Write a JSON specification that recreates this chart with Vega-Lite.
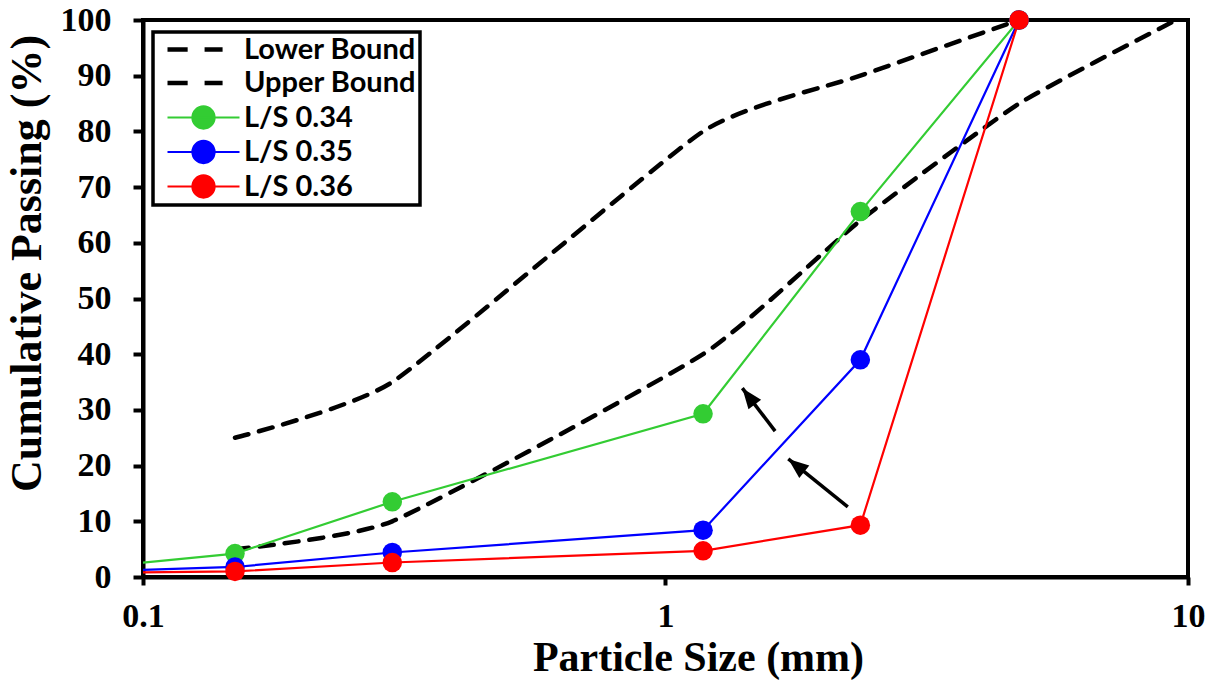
{
  "$schema": "https://vega.github.io/schema/vega-lite/v6.json",
  "width": 1045,
  "height": 557,
  "autosize": "none",
  "padding": {"left": 143, "top": 20, "right": 32, "bottom": 103},
  "background": "white",
  "datasets": {
    "gradation": [
      {"series": "Lower Bound", "size": 0.15, "passing": 5},
      {"series": "Lower Bound", "size": 0.3, "passing": 10},
      {"series": "Lower Bound", "size": 1.18, "passing": 40},
      {"series": "Lower Bound", "size": 2.36, "passing": 64},
      {"series": "Lower Bound", "size": 4.75, "passing": 85},
      {"series": "Lower Bound", "size": 9.5, "passing": 100},
      {"series": "Upper Bound", "size": 0.15, "passing": 25},
      {"series": "Upper Bound", "size": 0.3, "passing": 35},
      {"series": "Upper Bound", "size": 1.18, "passing": 80},
      {"series": "Upper Bound", "size": 2.36, "passing": 90},
      {"series": "Upper Bound", "size": 4.75, "passing": 100},
      {"series": "L/S 0.34", "size": 0.075, "passing": 1.4},
      {"series": "L/S 0.34", "size": 0.15, "passing": 4.2},
      {"series": "L/S 0.34", "size": 0.3, "passing": 13.5},
      {"series": "L/S 0.34", "size": 1.18, "passing": 29.3},
      {"series": "L/S 0.34", "size": 2.36, "passing": 65.6},
      {"series": "L/S 0.34", "size": 4.75, "passing": 100},
      {"series": "L/S 0.35", "size": 0.075, "passing": 0.9},
      {"series": "L/S 0.35", "size": 0.15, "passing": 1.8},
      {"series": "L/S 0.35", "size": 0.3, "passing": 4.4},
      {"series": "L/S 0.35", "size": 1.18, "passing": 8.4},
      {"series": "L/S 0.35", "size": 2.36, "passing": 39.0},
      {"series": "L/S 0.35", "size": 4.75, "passing": 100},
      {"series": "L/S 0.36", "size": 0.075, "passing": 0.7},
      {"series": "L/S 0.36", "size": 0.15, "passing": 1.0},
      {"series": "L/S 0.36", "size": 0.3, "passing": 2.6},
      {"series": "L/S 0.36", "size": 1.18, "passing": 4.7},
      {"series": "L/S 0.36", "size": 2.36, "passing": 9.3},
      {"series": "L/S 0.36", "size": 4.75, "passing": 100}
    ],
    "arrows": [
      {"arrow": "upper", "x_from": 1.621, "y_from": 26.2, "x_to": 1.403, "y_to": 33.9},
      {"arrow": "lower", "x_from": 2.233, "y_from": 12.6, "x_to": 1.718, "y_to": 21.2}
    ]
  },
  "config": {
    "view": {"stroke": "black", "strokeWidth": 4},
    "axis": {
      "grid": false,
      "domainColor": "black",
      "domainWidth": 4,
      "tickColor": "black",
      "tickWidth": 4,
      "labelFont": "Liberation Serif",
      "labelFontWeight": "bold",
      "labelFontSize": 34,
      "labelColor": "black",
      "titleFont": "Liberation Serif",
      "titleFontWeight": "bold",
      "titleColor": "black"
    }
  },
  "layer": [
    {
      "data": {"name": "gradation"},
      "transform": [{"filter": "indexof(datum.series, 'Bound') >= 0"}],
      "mark": {"type": "line", "clip": true, "strokeWidth": 4.5, "strokeDash": [14, 11], "strokeCap": "round", "interpolate": "cardinal", "tension": 0.5},
      "encoding": {
        "x": {
          "field": "size", "type": "quantitative",
          "scale": {"type": "log", "domain": [0.1, 10]},
          "axis": {
            "title": "Particle Size (mm)",
            "values": [0.1, 1, 10],
            "format": "~g",
            "labelFlush": false,
            "labelBaseline": "top",
            "labelPadding": 14,
            "tickSize": 8,
            "titleFontSize": 42,
            "titleX": 555,
            "titleY": 93,
            "titleAlign": "center",
            "titleBaseline": "alphabetic"
          }
        },
        "y": {
          "field": "passing", "type": "quantitative",
          "scale": {"domain": [0, 100], "nice": false},
          "axis": {
            "title": "Cumulative Passing (%)",
            "values": [0, 10, 20, 30, 40, 50, 60, 70, 80, 90, 100],
            "labelPadding": 22,
            "labelBaseline": "middle",
            "labelOverlap": false,
            "tickSize": 10,
            "titleFontSize": 44,
            "titleAngle": -90,
            "titleX": -103,
            "titleY": 243,
            "titleAlign": "center",
            "titleBaseline": "alphabetic"
          }
        },
        "color": {
          "field": "series", "type": "nominal",
          "scale": {
            "domain": ["Lower Bound", "Upper Bound", "L/S 0.34", "L/S 0.35", "L/S 0.36"],
            "range": ["black", "black", "#33cc33", "#0000ff", "#ff0000"]
          },
          "legend": {
            "title": null,
            "orient": "none",
            "legendX": 10,
            "legendY": 12,
            "padding": 3,
            "fillColor": "white",
            "strokeColor": "black",
            "symbolSize": 5184,
            "symbolOffset": 33,
            "labelOffset": 26,
            "rowPadding": 3.5,
            "labelFont": "Lato",
            "labelFontWeight": "bold",
            "labelFontSize": 29,
            "labelColor": "black",
            "labelLimit": 400,
            "encode": {
              "legend": {"update": {"strokeWidth": {"value": 3.5}}},
              "symbols": {
                "update": {
                  "shape": {"signal": "datum.value === 'Lower Bound' || datum.value === 'Upper Bound' ? 'M-1,0L-0.44,0M0.03,0L0.53,0' : 'M-1,0L1,0M0.31,0C0.31,0.1712 0.1712,0.31 0,0.31C-0.1712,0.31 -0.31,0.1712 -0.31,0C-0.31,-0.1712 -0.1712,-0.31 0,-0.31C0.1712,-0.31 0.31,-0.1712 0.31,0Z'"},
                  "strokeWidth": {"signal": "datum.value === 'Lower Bound' || datum.value === 'Upper Bound' ? 4.5 : 2"},
                  "fill": {"scale": "color", "field": "value"},
                  "stroke": {"scale": "color", "field": "value"}
                }
              }
            }
          }
        }
      }
    },
    {
      "data": {"name": "gradation"},
      "transform": [{"filter": "indexof(datum.series, 'L/S') === 0"}],
      "mark": {"type": "line", "clip": true, "strokeWidth": 2.2},
      "encoding": {
        "x": {"field": "size", "type": "quantitative"},
        "y": {"field": "passing", "type": "quantitative"},
        "color": {"field": "series", "type": "nominal"}
      }
    },
    {
      "data": {"name": "gradation"},
      "transform": [
        {"filter": "indexof(datum.series, 'L/S') === 0"},
        {"filter": "datum.size >= 0.1"}
      ],
      "mark": {"type": "point", "shape": "circle", "filled": true, "opacity": 1, "size": 380},
      "encoding": {
        "x": {"field": "size", "type": "quantitative"},
        "y": {"field": "passing", "type": "quantitative"},
        "color": {"field": "series", "type": "nominal"}
      }
    },
    {
      "data": {"name": "arrows"},
      "mark": {"type": "rule", "color": "black", "strokeWidth": 3.5},
      "encoding": {
        "x": {"field": "x_from", "type": "quantitative", "title": "Particle Size (mm)"},
        "x2": {"field": "x_to"},
        "y": {"field": "y_from", "type": "quantitative", "title": "Cumulative Passing (%)"},
        "y2": {"field": "y_to"}
      }
    },
    {
      "data": {"name": "arrows"},
      "transform": [{"filter": "datum.arrow === 'upper'"}],
      "mark": {"type": "point", "shape": "M0,0L-0.7,1.8L0.7,1.8Z", "filled": true, "color": "black", "opacity": 1, "size": 520, "angle": 322.6},
      "encoding": {
        "x": {"field": "x_to", "type": "quantitative", "title": "Particle Size (mm)"},
        "y": {"field": "y_to", "type": "quantitative", "title": "Cumulative Passing (%)"}
      }
    },
    {
      "data": {"name": "arrows"},
      "transform": [{"filter": "datum.arrow === 'lower'"}],
      "mark": {"type": "point", "shape": "M0,0L-0.7,1.8L0.7,1.8Z", "filled": true, "color": "black", "opacity": 1, "size": 520, "angle": 308.8},
      "encoding": {
        "x": {"field": "x_to", "type": "quantitative", "title": "Particle Size (mm)"},
        "y": {"field": "y_to", "type": "quantitative", "title": "Cumulative Passing (%)"}
      }
    }
  ]
}
